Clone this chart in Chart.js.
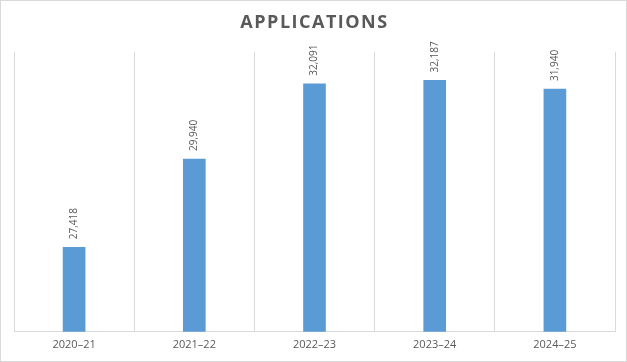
<!DOCTYPE html>
<html>
<head>
<meta charset="utf-8">
<script src="https://cdn.jsdelivr.net/npm/chart.js@4"></script>
<style>
  html, body { margin: 0; padding: 0; background: #fff; }
  #wrap { position: relative; width: 625px; height: 360px; border: 1px solid #d9d9d9; }
</style>
</head>
<body>
<div id="wrap"><canvas id="barChart" width="625" height="360"></canvas></div>
<script>
// values
const years = ["2020–21", "2021–22", "2022–23", "2023–24", "2024–25"];
const applications = [27418, 29940, 32091, 32187, 31940];
const yMin = 25000;
const yMax = 33000;
const chartTitle = 'APPLICATIONS';

// spaced-out title, drawn by hand so letterSpacing can be used
const spacedTitle = {
    id: 'spacedTitle',
    afterDraw(chart) {
        const ctx = chart.ctx;
        ctx.save();
        ctx.letterSpacing = '1.5px';
        ctx.fillStyle = '#595959';
        ctx.font = 'bold 18px "Open Sans"';
        ctx.textAlign = 'center';
        ctx.textBaseline = 'middle';
        ctx.fillText(chartTitle, chart.width / 2 + 1, 22);
        ctx.restore();
    }
};

// rotated value labels above each bar
const valueLabels = {
    id: 'valueLabels',
    afterDatasetsDraw(chart) {
        const ctx = chart.ctx;
        const meta = chart.getDatasetMeta(0);
        ctx.save();
        ctx.fillStyle = '#595959';
        ctx.font = '10px "Open Sans"';
        ctx.textAlign = 'left';
        ctx.textBaseline = 'middle';
        meta.data.forEach((bar, i) => {
            ctx.save();
            ctx.translate(bar.x, bar.y - 8);
            ctx.rotate(-Math.PI / 2);
            ctx.fillText(applications[i].toLocaleString('en-US'), 0, 0);
            ctx.restore();
        });
        ctx.restore();
    }
};

new Chart(document.getElementById('barChart').getContext('2d'), {
    type: 'bar',
    data: {
        labels: years,
        datasets: [{
            data: applications,
            backgroundColor: '#5b9bd5',
            barThickness: 22
        }]
    },
    options: {
        responsive: false,
        animation: false,
        layout: { padding: { left: 13, right: 11, top: 51, bottom: 4 } },
        plugins: {
            legend: { display: false },
            tooltip: { enabled: false },
            title: { display: false }
        },
        scales: {
            x: {
                grid: { color: '#d9d9d9', offset: true, drawTicks: false },
                border: { color: '#d9d9d9' },
                ticks: { color: '#595959', font: { family: 'Open Sans', size: 11 }, padding: 6 }
            },
            y: {
                display: false,
                min: yMin,
                max: yMax
            }
        }
    },
    plugins: [valueLabels, spacedTitle]
});
</script>
</body>
</html>
